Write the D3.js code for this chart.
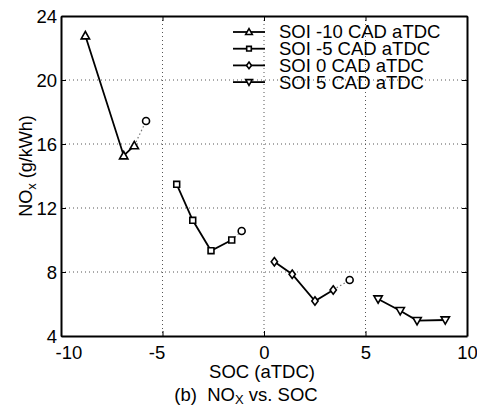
<!DOCTYPE html>
<html>
<head>
<meta charset="utf-8">
<script src="https://cdn.jsdelivr.net/npm/d3@7"></script>
<style>
  body { margin: 0; background: #fff; }
  svg text { font-family: "Liberation Sans", Arial, sans-serif; fill: #000; }
</style>
</head>
<body>
<div class="svg-container"></div>
<script>
// series data
let seriesNames = ["SOI -10 CAD aTDC", "SOI -5 CAD aTDC", "SOI 0 CAD aTDC", "SOI 5 CAD aTDC"];
let markerTypes = ["tri-up", "square", "diamond", "tri-down"];
let socSoi10 = [-8.8, -6.91, -6.39];
let noxSoi10 = [22.77, 15.27, 15.9];
let socSoiM5 = [-4.3, -3.51, -2.61, -1.59];
let noxSoiM5 = [13.48, 11.23, 9.33, 10.0];
let socSoi0 = [0.51, 1.39, 2.51, 3.41];
let noxSoi0 = [8.64, 7.86, 6.19, 6.88];
let socSoi5 = [5.62, 6.71, 7.54, 8.93];
let noxSoi5 = [6.31, 5.58, 4.96, 5.0];
// extra dotted points (circle) for first three series
let socExtra = [-5.81, -1.1, 4.22];
let noxExtra = [17.44, 10.56, 7.5];
let xTicks = [-10, -5, 0, 5, 10];
let yTicks = [4, 8, 12, 16, 20, 24];

let series = [
  {x: socSoi10, y: noxSoi10},
  {x: socSoiM5, y: noxSoiM5},
  {x: socSoi0, y: noxSoi0},
  {x: socSoi5, y: noxSoi5}
];

let margin = {top: 16, right: 10, bottom: 72, left: 61},
  width = 467 - margin.left,
  height = 336 - margin.top;

let svg = d3.select(".svg-container").append("svg")
  .attr("width", 477)
  .attr("height", 408);

let g = svg.append("g")
  .attr("transform", "translate(" + margin.left + "," + margin.top + ")");

let x = d3.scaleLinear().domain([-10, 10]).range([0, width]);
let y = d3.scaleLinear().domain([4, 24]).range([height, 0]);

// dotted grid
g.append("g").selectAll("line")
  .data(xTicks.slice(1, -1))
  .enter().append("line")
  .attr("x1", d => x(d)).attr("x2", d => x(d))
  .attr("y1", 0).attr("y2", height)
  .attr("stroke", "#555").attr("stroke-width", 1)
  .attr("stroke-dasharray", "1,3");
g.append("g").selectAll("line")
  .data(yTicks.slice(1, -1))
  .enter().append("line")
  .attr("y1", d => y(d)).attr("y2", d => y(d))
  .attr("x1", 0).attr("x2", width)
  .attr("stroke", "#555").attr("stroke-width", 1)
  .attr("stroke-dasharray", "1,3");

// axes, ticks pointing inward
let fmt = d => String(d);
let xAxis = g.append("g")
  .attr("transform", "translate(0," + height + ")")
  .call(d3.axisBottom(x).tickValues(xTicks).tickFormat(fmt).tickSizeInner(-5).tickSizeOuter(0).tickPadding(10));
let yAxis = g.append("g")
  .call(d3.axisLeft(y).tickValues(yTicks).tickFormat(fmt).tickSizeInner(-5).tickSizeOuter(0).tickPadding(4));
g.append("g")
  .call(d3.axisTop(x).tickValues(xTicks).tickSizeInner(-5).tickSizeOuter(0).tickFormat(""));
g.append("g")
  .attr("transform", "translate(" + width + ",0)")
  .call(d3.axisRight(y).tickValues(yTicks).tickSizeInner(-5).tickSizeOuter(0).tickFormat(""));

svg.selectAll(".domain").attr("stroke", "#000").attr("stroke-width", 2);
svg.selectAll(".tick line").attr("stroke", "#000").attr("stroke-width", 1);
xAxis.selectAll("text").style("font-size", "18.5px");
yAxis.selectAll("text").style("font-size", "18.5px").attr("dy", "0.35em");
// negative labels sit a little off their ticks, as in the original
xAxis.selectAll(".tick").filter(d => d === -10).select("text")
  .attr("text-anchor", "start").attr("dx", -6);
xAxis.selectAll(".tick").filter(d => d === -5).select("text").attr("dx", -6);

// markers
function marker(sel, type, s) {
  let p;
  if (type === "tri-up") p = "M0," + (-s) + "L" + s + "," + (s * 0.75) + "L" + (-s) + "," + (s * 0.75) + "Z";
  else if (type === "tri-down") p = "M0," + s + "L" + s + "," + (-s * 0.75) + "L" + (-s) + "," + (-s * 0.75) + "Z";
  else if (type === "square") p = "M" + (-s * 0.7) + "," + (-s * 0.7) + "h" + (s * 1.4) + "v" + (s * 1.4) + "h" + (-s * 1.4) + "Z";
  else p = "M0," + (-s) + "L" + (s * 0.75) + ",0L0," + s + "L" + (-s * 0.75) + ",0Z";
  sel.append("path").attr("d", p)
    .attr("fill", "#fff").attr("stroke", "#000").attr("stroke-width", 1.6);
}

let line = d3.line().x(d => x(d[0])).y(d => y(d[1]));

series.forEach((s, i) => {
  let pts = s.x.map((v, j) => [v, s.y[j]]);
  if (i < socExtra.length) {
    let last = pts[pts.length - 1];
    g.append("path")
      .attr("d", line([last, [socExtra[i], noxExtra[i]]]))
      .attr("fill", "none").attr("stroke", "#777").attr("stroke-width", 1.2)
      .attr("stroke-dasharray", "1.5,2.5");
    g.append("circle")
      .attr("cx", x(socExtra[i])).attr("cy", y(noxExtra[i])).attr("r", 3.5)
      .attr("fill", "#fff").attr("stroke", "#000").attr("stroke-width", 1.6);
  }
  g.append("path")
    .attr("d", line(pts))
    .attr("fill", "none").attr("stroke", "#000").attr("stroke-width", 1.8);
  pts.forEach(p => {
    let m = g.append("g").attr("transform", "translate(" + x(p[0]) + "," + y(p[1]) + ")");
    marker(m, markerTypes[i], 4.2);
  });
});

// legend
let legend = svg.selectAll(".legend")
  .data(seriesNames)
  .enter().append("g")
  .attr("class", "legend")
  .attr("transform", (d, i) => "translate(233," + (32 + i * 16.7) + ")");
legend.append("line")
  .attr("x1", 0).attr("x2", 32)
  .attr("stroke", "#000").attr("stroke-width", 1.8);
legend.each(function (d, i) {
  let m = d3.select(this).append("g").attr("transform", "translate(16,0)");
  marker(m, markerTypes[i], 3.3);
});
legend.append("text")
  .attr("x", 46).attr("dy", "0.35em")
  .style("font-size", "18.5px")
  .text(d => d);

// y label
let yl = svg.append("text")
  .attr("transform", "translate(32,166) rotate(-90)")
  .attr("text-anchor", "middle")
  .style("font-size", "18px");
yl.append("tspan").text("NO");
yl.append("tspan").attr("dy", 4).style("font-size", "13px").text("x");
yl.append("tspan").attr("dy", -4).text(" (g/kWh)");

// x label
svg.append("text")
  .attr("x", 262).attr("y", 378)
  .attr("text-anchor", "middle")
  .style("font-size", "18.5px")
  .text("SOC (aTDC)");

// caption
let cap = svg.append("text")
  .attr("x", 246).attr("y", 401)
  .attr("text-anchor", "middle")
  .style("font-size", "18.5px");
cap.append("tspan").text("(b)\u00a0\u00a0NO");
cap.append("tspan").attr("dy", 3).style("font-size", "13px").text("X");
cap.append("tspan").attr("dy", -3).text(" vs. SOC");
</script>
</body>
</html>
